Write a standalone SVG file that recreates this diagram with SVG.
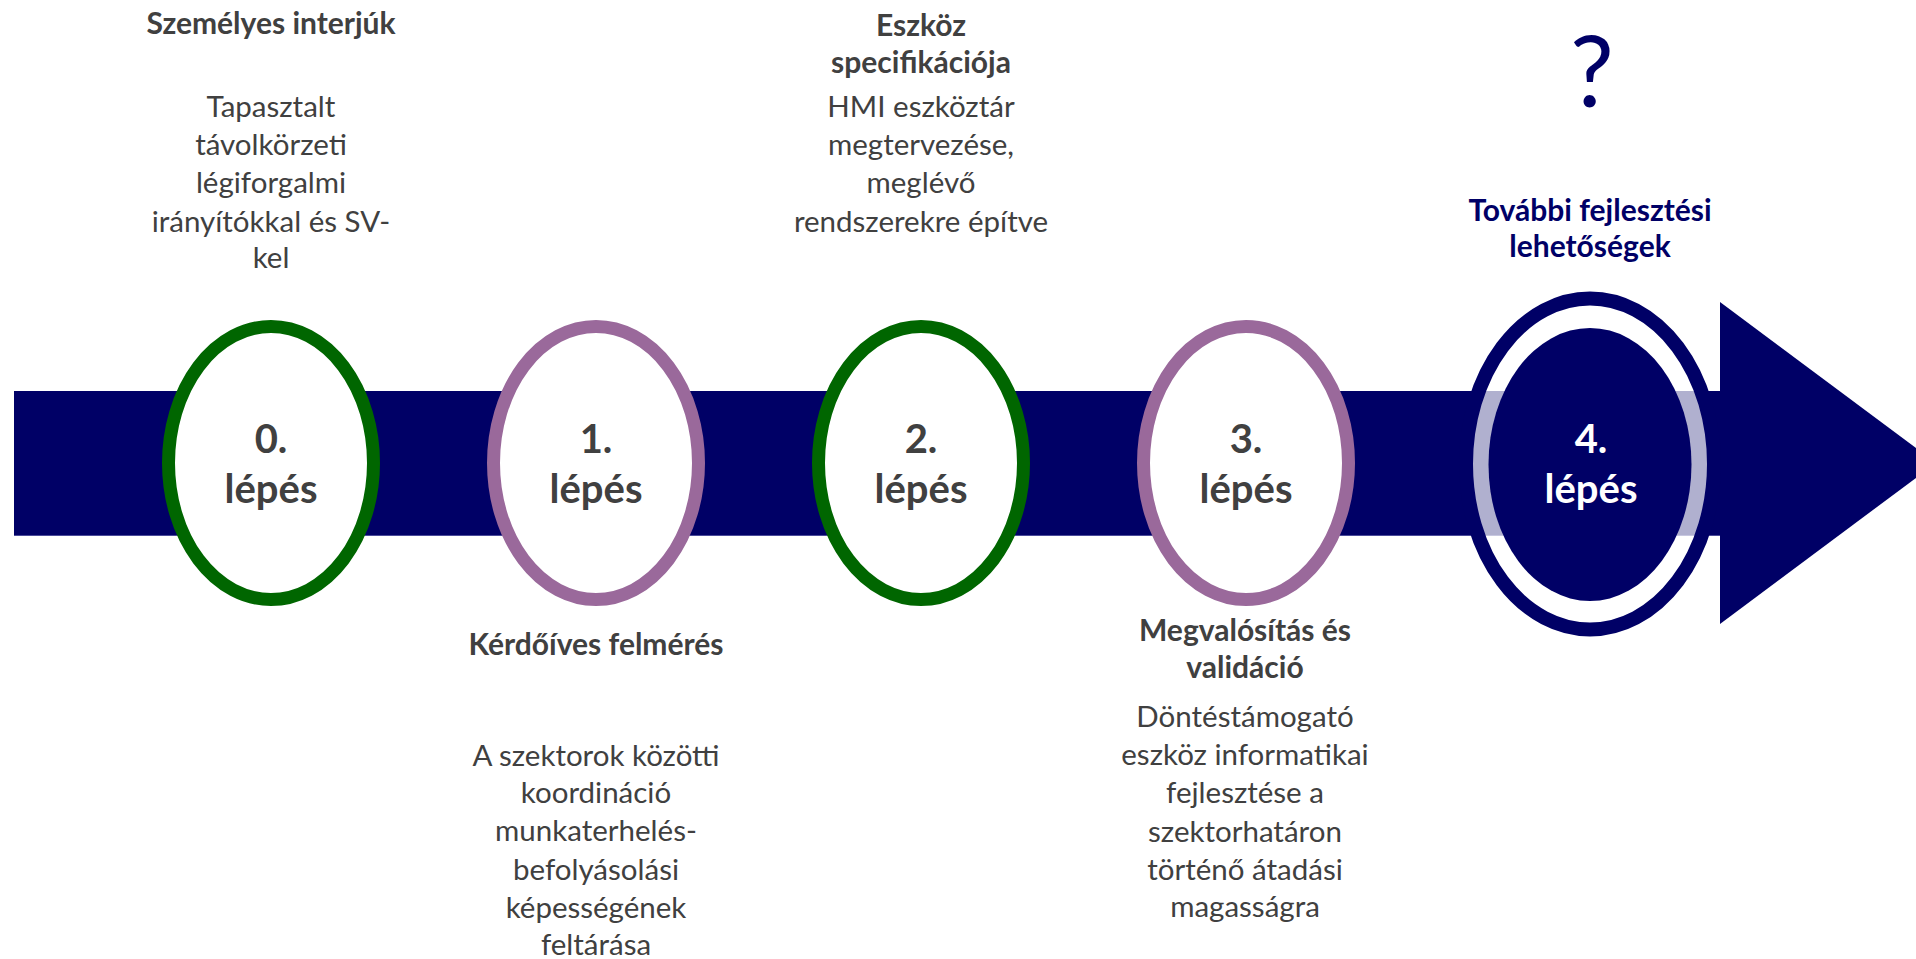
<svg xmlns="http://www.w3.org/2000/svg" width="1916" height="959" viewBox="0 0 1916 959">
<style>
.t{font-family:Lato,"Open Sans","Liberation Sans",sans-serif;fill:#404040;text-anchor:middle}
.h{font-weight:bold;font-size:30px}
.d{font-size:29.5px}
.n{font-weight:bold;font-size:40px}
.g{fill:#ffffff;stroke:#006600;stroke-width:13}
.p{fill:#ffffff;stroke:#9a699b;stroke-width:13}
.navy{fill:#000066}
</style>
<rect width="1916" height="959" fill="#ffffff"/>
<g id="arrow">
<rect x="14" y="391" width="1710" height="145" class="navy"/>
<line x1="14" y1="535.5" x2="1724" y2="535.5" stroke="#4a4a9a" stroke-width="1"/>
<polygon points="1720,302 1936,463 1720,624" class="navy"/>
</g>
<g id="step0">
<ellipse cx="271" cy="463" rx="102.5" ry="136.5" class="g"/>
<text class="t n" x="271" y="453">0.</text>
<text class="t n" x="271" y="503">lépés</text>
<text class="t h" x="271" y="34">Személyes interjúk</text>
<text class="t d" x="271" y="117">Tapasztalt</text>
<text class="t d" x="271" y="155">távolkörzeti</text>
<text class="t d" x="271" y="193">légiforgalmi</text>
<text class="t d" x="271" y="232">irányítókkal és SV-</text>
<text class="t d" x="271" y="268">kel</text>
</g>
<g id="step1">
<ellipse cx="596" cy="463" rx="102.5" ry="136.5" class="p"/>
<text class="t n" x="596" y="453">1.</text>
<text class="t n" x="596" y="503">lépés</text>
<text class="t h" x="596" y="655">Kérdőíves felmérés</text>
<text class="t d" x="596" y="766">A szektorok közötti</text>
<text class="t d" x="596" y="803">koordináció</text>
<text class="t d" x="596" y="841">munkaterhelés-</text>
<text class="t d" x="596" y="880">befolyásolási</text>
<text class="t d" x="596" y="918">képességének</text>
<text class="t d" x="596" y="955">feltárása</text>
</g>
<g id="step2">
<ellipse cx="921" cy="463" rx="102.5" ry="136.5" class="g"/>
<text class="t n" x="921" y="453">2.</text>
<text class="t n" x="921" y="503">lépés</text>
<text class="t h" x="921" y="36">Eszköz</text>
<text class="t h" x="921" y="73">specifikációja</text>
<text class="t d" x="921" y="117">HMI eszköztár</text>
<text class="t d" x="921" y="155">megtervezése,</text>
<text class="t d" x="921" y="193">meglévő</text>
<text class="t d" x="921" y="232">rendszerekre építve</text>
</g>
<g id="step3">
<ellipse cx="1246" cy="463" rx="102.5" ry="136.5" class="p"/>
<text class="t n" x="1246" y="453">3.</text>
<text class="t n" x="1246" y="503">lépés</text>
<text class="t h" x="1245" y="641">Megvalósítás és</text>
<text class="t h" x="1245" y="678">validáció</text>
<text class="t d" x="1245" y="727">Döntéstámogató</text>
<text class="t d" x="1245" y="765">eszköz informatikai</text>
<text class="t d" x="1245" y="803">fejlesztése a</text>
<text class="t d" x="1245" y="842">szektorhatáron</text>
<text class="t d" x="1245" y="880">történő átadási</text>
<text class="t d" x="1245" y="917">magasságra</text>
</g>
<g id="step4">
<ellipse cx="1590" cy="464" rx="124" ry="165.5" fill="#ffffff" fill-opacity="0.69" stroke="#000066" stroke-width="14"/>
<ellipse cx="1590" cy="464.5" rx="101.5" ry="136.5" class="navy"/>
<text class="t n" x="1591" y="453" style="fill:#ffffff">4.</text>
<text class="t n" x="1591" y="503" style="fill:#ffffff">lépés</text>
<text class="t" x="1592" y="107" style="fill:#000066;font-size:98px">?</text>
<text class="t h" x="1590" y="221" style="fill:#000066">További fejlesztési</text>
<text class="t h" x="1590" y="257" style="fill:#000066">lehetőségek</text>
</g>
</svg>
